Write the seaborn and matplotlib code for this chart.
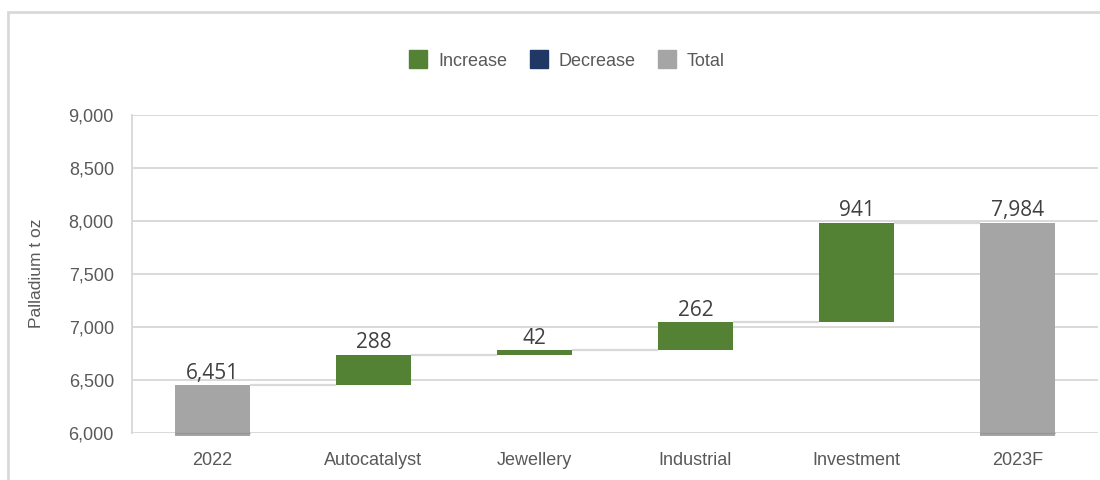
import matplotlib
matplotlib.use("Agg")
import matplotlib.pyplot as plt
from matplotlib.lines import Line2D
from matplotlib.patches import Rectangle
from matplotlib.ticker import FuncFormatter
import seaborn as sns
import pandas as pd

# Palladium demand bridge, 2022 -> 2023F (thousand oz)
categories = ["2022", "Autocatalyst", "Jewellery", "Industrial", "Investment", "2023F"]
values = [6451, 288, 42, 262, 941, 7984]
kinds = ["Total", "Increase", "Increase", "Increase", "Increase", "Total"]
legend_order = ["Increase", "Decrease", "Total"]
y_ticks = [6000, 6500, 7000, 7500, 8000, 8500, 9000]

colors = {"Increase": "#548235", "Decrease": "#203864", "Total": "#A5A5A5"}
text_color = "#595959"
grid_color = "#D9D9D9"
bar_width = 0.46
y_min, y_max = 6000, 9000
total_floor = y_min - 28  # total bars sit just below the axis floor

# Running bases / tops for the waterfall
bases, tops = [], []
running = 0
for v, k in zip(values, kinds):
    if k == "Total":
        bases.append(total_floor)
        tops.append(v)
        running = v
    elif k == "Increase":
        bases.append(running)
        running += v
        tops.append(running)
    else:
        running -= v
        bases.append(running)
        tops.append(running + v)

df = pd.DataFrame({
    "category": categories,
    "span": [t - b for t, b in zip(tops, bases)],
    "kind": kinds,
})

sns.set_theme(style="white")
plt.rcParams["font.family"] = ["Liberation Sans", "DejaVu Sans"]

fig = plt.figure(figsize=(11, 4.8), dpi=100)
ax = fig.add_axes([132 / 1100, 1 - 433 / 480, 966 / 1100, 318 / 480])

sns.barplot(data=df, x="category", y="span", hue="kind", palette=colors,
            order=categories, dodge=False, width=bar_width, errorbar=None,
            saturation=1, legend=False, ax=ax, linewidth=0, zorder=3)

# Lift each bar to its waterfall base
for p in ax.patches:
    idx = int(round(p.get_x() + p.get_width() / 2))
    p.set_y(bases[idx])
    p.set_clip_on(False)

# Axis floor line drawn across the total bars
for i, k in enumerate(kinds):
    if k == "Total":
        ax.hlines(y_min, i - bar_width / 2, i + bar_width / 2, color="#969696",
                  lw=1.0, zorder=4, clip_on=False)

# Connectors between consecutive bars
for i in range(len(categories) - 1):
    ax.hlines(tops[i], i + bar_width / 2, i + 1 - bar_width / 2,
              color=grid_color, lw=1.6, zorder=2)

# Value labels
for i, (v, t) in enumerate(zip(values, tops)):
    ax.annotate(f"{v:,}", xy=(i, t), xytext=(0, 4.5), textcoords="offset points",
                ha="center", va="baseline", fontsize=15, color="#404040",
                family=["Open Sans", "DejaVu Sans"])

ax.set_xlim(-0.5, len(categories) - 0.5)
ax.set_ylim(y_min, y_max)
ax.set_yticks(y_ticks)
ax.yaxis.set_major_formatter(FuncFormatter(lambda v, _: f"{int(v):,}"))
ax.yaxis.grid(True, color=grid_color, lw=1.4, zorder=0)
ax.set_axisbelow(True)
ax.set_xlabel("")
ax.set_ylabel("Palladium t oz", fontsize=12.5, color=text_color)
ax.yaxis.set_label_coords(-0.091, 0.503)
ax.tick_params(axis="y", length=0, pad=13, labelsize=13, labelcolor=text_color)
ax.tick_params(axis="x", length=0, pad=14, labelsize=13, labelcolor=text_color)

for side in ["top", "right", "bottom"]:
    ax.spines[side].set_visible(False)
ax.spines["left"].set_color(grid_color)
ax.spines["left"].set_linewidth(1.4)

handles = [Line2D([], [], marker="s", linestyle="none", markersize=13,
                  markerfacecolor=colors[k], markeredgecolor=colors[k])
           for k in legend_order]
fig.legend(handles, legend_order, loc="center", bbox_to_anchor=(567 / 1100, 1 - 61 / 480),
           ncol=3, frameon=False, fontsize=13, labelcolor=text_color,
           handletextpad=0.6, columnspacing=1.25, handlelength=1.0)

# Outer chart frame
fig.patches.append(Rectangle((8 / 1100, -0.1), 1.2, 0.1 + (480 - 12) / 480,
                             transform=fig.transFigure, fill=False,
                             edgecolor=grid_color, lw=2, zorder=0))

fig.savefig("out.png", dpi=100, facecolor="white")
